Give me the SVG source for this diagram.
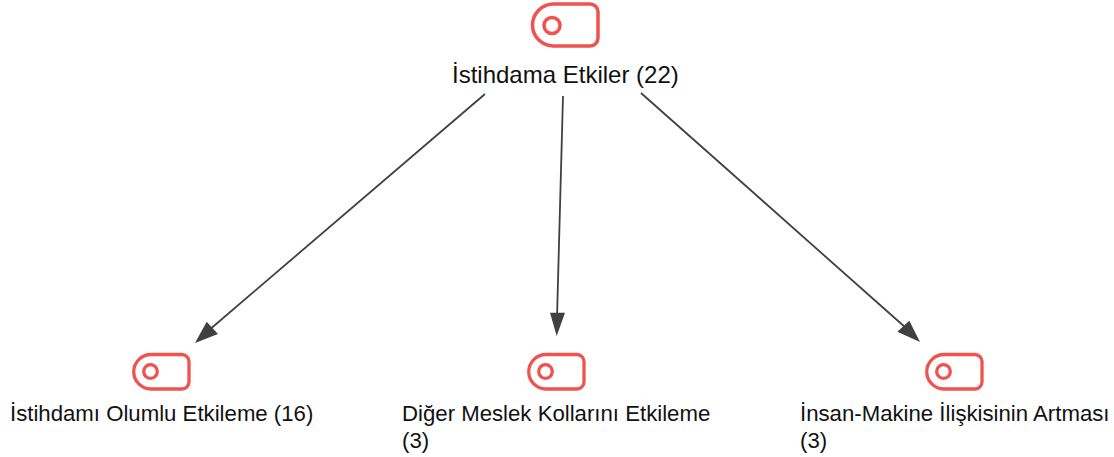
<svg xmlns="http://www.w3.org/2000/svg" width="1114" height="457" viewBox="0 0 1114 457">
<style>
.t{font-family:"Liberation Sans",Arial,sans-serif;font-size:22.2px;fill:#111}
.i{fill:none;stroke:#ef5350;stroke-width:3.3}
.e{fill:none;stroke:#404040;stroke-width:1.8}
.a{fill:#404040}
</style>
<rect width="1114" height="457" fill="#fff"/>
<g id="connectors">
<line class="e" x1="485" y1="94" x2="208" y2="331"/><polygon class="a" points="195,343 206.700,321.700 218,334"/>
<line class="e" x1="563" y1="96" x2="557" y2="318"/><polygon class="a" points="556.700,336 550,312.700 565,312.700"/>
<line class="e" x1="641" y1="93" x2="906" y2="328"/><polygon class="a" points="920,342 897.300,331.700 909.300,320.700"/>
</g>
<g id="n0"><path class="i" style="stroke-width:3.5" d="M553.500 4H590A8 8 0 0 1 598 12V38A8 8 0 0 1 590 46H553.500A21 21 0 0 1 553.500 4Z"/><circle class="i" style="stroke-width:3.5" cx="552" cy="25.500" r="8"/><text class="t" style="font-size:24px" x="452" y="83">İstihdama Etkiler (22)</text></g>
<g id="n1"><path class="i" d="M151 354.500H182A7 7 0 0 1 189 361.500V382A7 7 0 0 1 182 389H151A17.250 17.250 0 0 1 151 354.500Z"/><circle class="i" cx="150.500" cy="371.500" r="6.800"/><text class="t" x="10" y="421">İstihdamı Olumlu Etkileme (16)</text></g>
<g id="n2"><path class="i" d="M546 354.500H577A7 7 0 0 1 584 361.500V382A7 7 0 0 1 577 389H546A17.250 17.250 0 0 1 546 354.500Z"/><circle class="i" cx="545.500" cy="371.500" r="6.800"/><text class="t" x="402" y="421">Diğer Meslek Kollarını Etkileme</text><text class="t" x="402" y="448">(3)</text></g>
<g id="n3"><path class="i" d="M944 354.500H975A7 7 0 0 1 982 361.500V382A7 7 0 0 1 975 389H944A17.250 17.250 0 0 1 944 354.500Z"/><circle class="i" cx="943.500" cy="371.500" r="6.800"/><text class="t" x="800" y="421">İnsan-Makine İlişkisinin Artması</text><text class="t" x="800" y="448">(3)</text></g>
</svg>
